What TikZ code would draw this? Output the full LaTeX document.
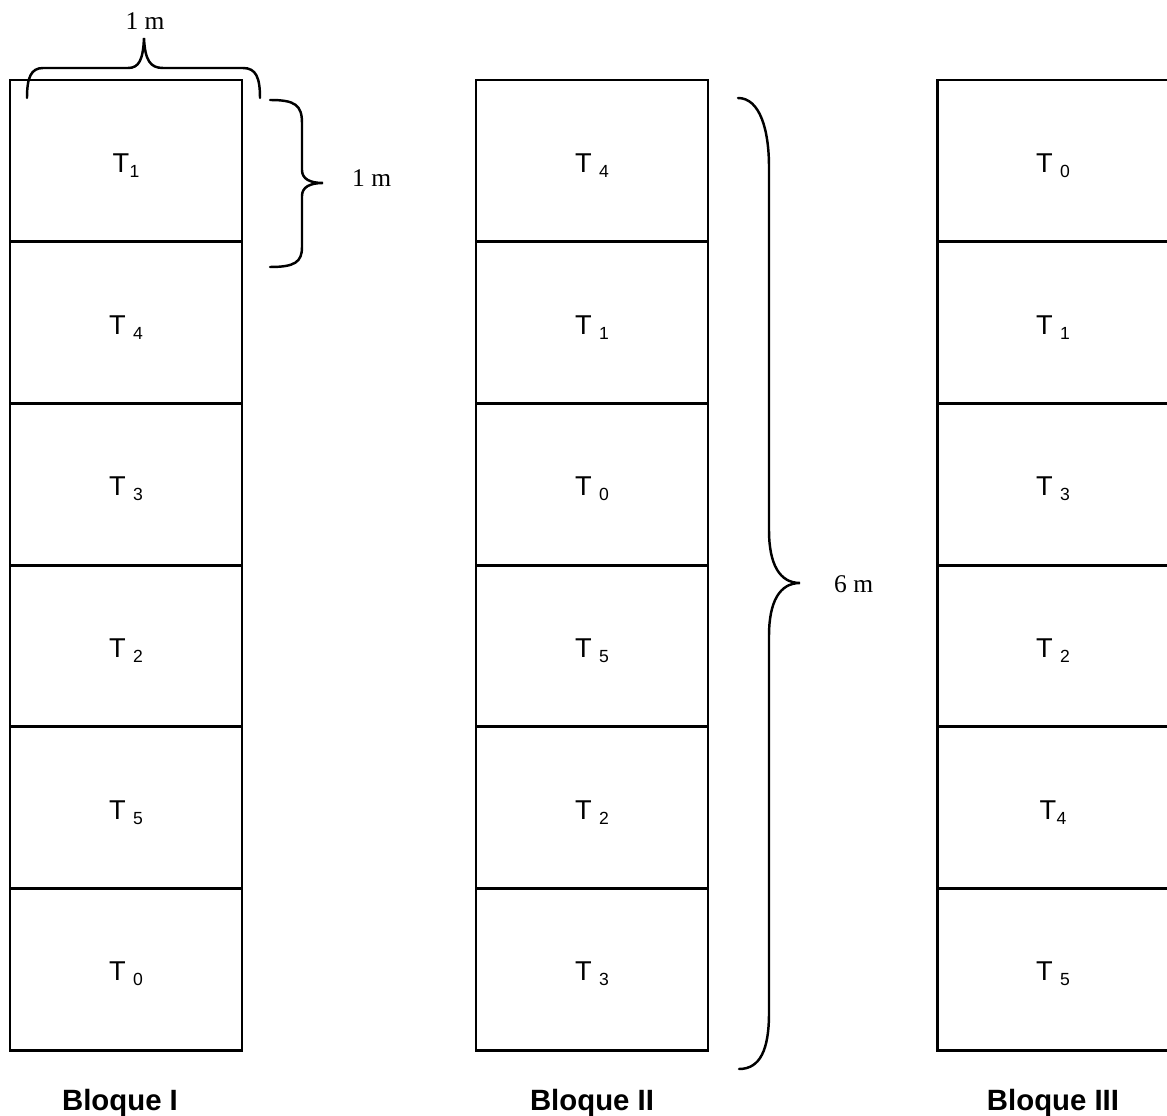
\documentclass[tikz,border=0pt]{standalone}
\usepackage{fontspec}
\setmainfont{Liberation Sans}
\newfontfamily\timesm{Liberation Serif}
% treatment labels: T with a lowered index (with and without gap)
\newcommand{\Tn}[1]{T\hspace{4.2pt}\raisebox{-2.8pt}{\fontsize{10}{10}\selectfont #1}}
\newcommand{\Tc}[1]{T\hspace{0.3pt}\raisebox{-2.8pt}{\fontsize{10}{10}\selectfont #1}}
\begin{document}
\begin{tikzpicture}[
  cell/.style={draw,line width=1.7pt,minimum width=4.64cm,minimum height=3.234cm,
    inner sep=0pt,text height=16pt,text depth=2.8pt,font=\fontsize{15.5}{18}\selectfont},
  title/.style={anchor=base,font=\fontsize{16.7}{19}\selectfont\bfseries},
  brace/.style={line width=1.4pt,line cap=round},
  dim/.style={anchor=base,font=\fontsize{14.5}{16}\selectfont\timesm}]
  \useasboundingbox (0,0) rectangle (23.34,-22.32);
  % Blocks
  \foreach \c/\x/\dx/\labs in {I/0.20/-0.12/{\Tc1,\Tn4,\Tn3,\Tn2,\Tn5,\Tn0},
                               II/9.52/0/{\Tn4,\Tn1,\Tn0,\Tn5,\Tn2,\Tn3},
                               III/18.74/0/{\Tn0,\Tn1,\Tn3,\Tn2,\Tc4,\Tn5}} {
    \foreach \l [count=\r] in \labs
      \node[cell] (\c-\r) at (\x+2.32,-1.60-3.234*\r+1.617) {\l};
    \node[title] (b\c) at (\x+2.32+\dx,-22.20) {Bloque \c};
  }
  % Width brace
  \draw[brace] (0.54,-1.96) .. controls (0.54,-1.55) and (0.62,-1.36) .. (0.86,-1.36)
    -- (2.56,-1.36) .. controls (2.78,-1.36) and (2.86,-1.20) .. (2.88,-0.76)
    .. controls (2.90,-1.20) and (3.00,-1.36) .. (3.26,-1.36) -- (4.86,-1.36)
    .. controls (5.12,-1.36) and (5.20,-1.55) .. (5.20,-1.96);
  \node[dim] (w) at (2.90,-0.60) {1 m};
  % Height brace of one plot
  \draw[brace] (5.40,-2.00) .. controls (5.90,-2.00) and (6.04,-2.10) .. (6.04,-2.46)
    -- (6.04,-3.40) .. controls (6.04,-3.58) and (6.20,-3.66) .. (6.46,-3.66)
    .. controls (6.20,-3.66) and (6.04,-3.74) .. (6.04,-3.92) -- (6.04,-4.94)
    .. controls (6.04,-5.24) and (5.90,-5.34) .. (5.40,-5.34);
  \node[dim,anchor=base west] (h) at (6.92,-3.74) {1 m};
  % Height brace of a block
  \draw[brace] (14.76,-1.96) .. controls (15.20,-1.96) and (15.38,-2.60) .. (15.38,-3.34)
    -- (15.38,-10.60) .. controls (15.38,-11.30) and (15.60,-11.66) .. (16.00,-11.66)
    .. controls (15.60,-11.66) and (15.38,-12.02) .. (15.38,-12.72) -- (15.38,-20.26)
    .. controls (15.38,-21.00) and (15.20,-21.38) .. (14.78,-21.38);
  \node[dim,anchor=base west] (H) at (16.56,-11.86) {6 m};
\end{tikzpicture}
\end{document}
